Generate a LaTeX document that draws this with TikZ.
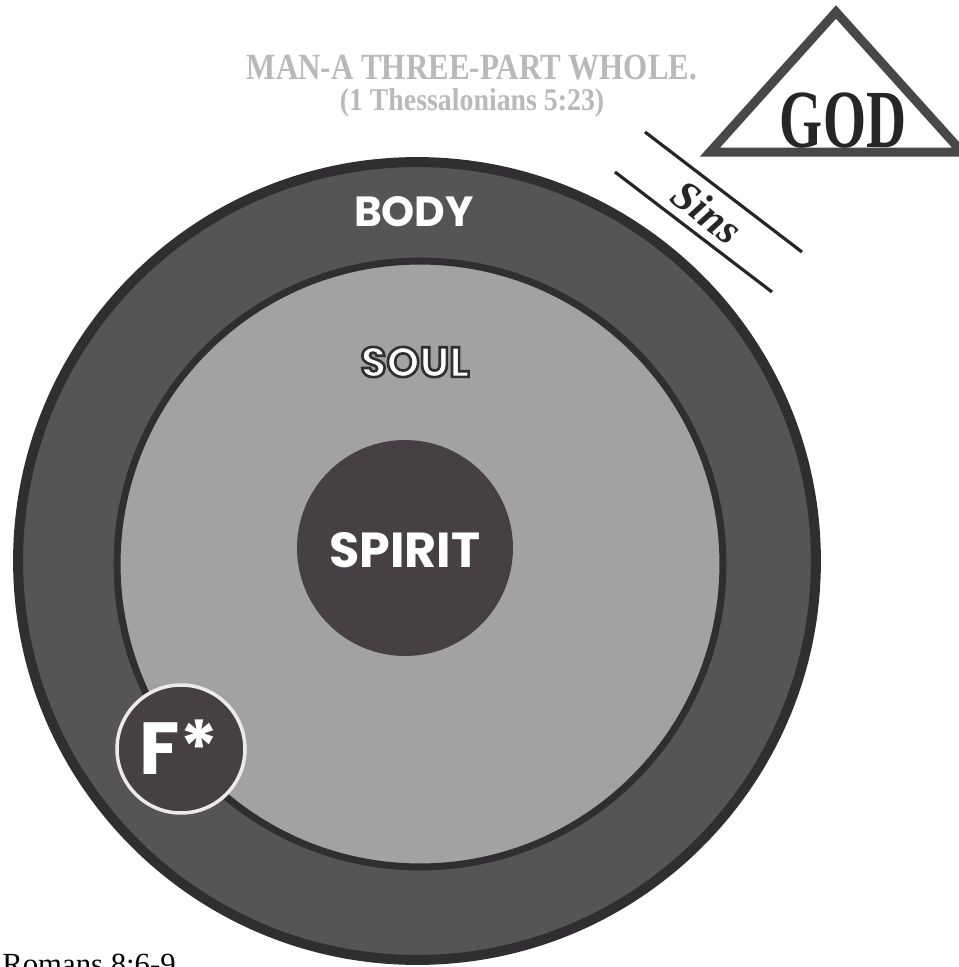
\documentclass[tikz,border=0pt]{standalone}
\usepackage{fontspec}
\setmainfont{Liberation Serif}
\setsansfont{Poppins}
\usetikzlibrary{positioning}
\definecolor{bodyRing}{RGB}{86,84,86}
\definecolor{ringEdge}{RGB}{48,46,48}
\definecolor{soulFill}{RGB}{163,162,163}
\definecolor{spiritFill}{RGB}{70,64,68}
\definecolor{triGray}{RGB}{72,72,72}
\definecolor{ghostGray}{RGB}{185,185,185}
% white letters with a dark rim
\newcommand\rimtext[1]{\special{pdf:literal direct 2 Tr 1.5 w 0.19 0.18 0.19 RG}#1\special{pdf:literal direct 0 Tr}}

\tikzset{
  partdisc/.style={circle, inner sep=0pt, outer sep=0pt},
  partname/.style={font=\sffamily\bfseries\fontsize{#1}{#1}\selectfont, text=white, inner sep=0pt},
  sinsline/.style={line width=1.8pt, black!85},
  ghost/.style={font=\bfseries\fontsize{#1}{#1}\selectfont, text=ghostGray, inner sep=0pt}
}

\begin{document}
\begin{tikzpicture}[x=0.02cm, y=-0.02cm]
  \useasboundingbox[fill=white] (0,0) rectangle (959,967);

  % faint heading
  \node[ghost=21] (head) at (472,68) {\scalebox{0.84}[1]{MAN-A THREE-PART WHOLE.}};
  \node[ghost=18] (verse) at (472,103) {\scalebox{0.88}[1]{(1 Thessalonians 5:23)}};

  % body, soul and spirit
  \node[partdisc, minimum size=15.96cm, fill=bodyRing, draw=ringEdge, line width=0.2cm] (body) at (417,561) {};
  \node[partdisc, minimum size=12.12cm, fill=soulFill, draw=ringEdge, line width=0.14cm] (soul) at (420,564) {};
  \node[partdisc, minimum size=4.32cm, fill=spiritFill] (spirit) at (405,548) {};
  \node[partdisc, minimum size=2.56cm, fill=spiritFill, draw=white!92!black, line width=0.07cm] (flesh) at (181,749) {};

  % names
  \node[partname=24] (bodytxt) at (414,212) {BODY};
  \node[partname=24] (soultxt) at (415,362) {\rimtext{SOUL}};
  \node[partname=28] (spirittxt) at (405,550) {SPIRIT};
  \node[partname=42] (fleshtxt) at (179,747) {F*};

  % God in the triangle
  \draw[triGray, line width=0.18cm] (836,12) -- (710,152) -- (962,152) -- cycle;
  \node[font=\bfseries\fontsize{47}{47}\selectfont, text=black!85, inner sep=0pt] (god) at (843,121) {\scalebox{0.67}[1]{GOD}};

  % sins between
  \draw[sinsline] (645,132) -- (802,252);
  \draw[sinsline] (615,172) -- (772,292);
  \node[font=\bfseries\itshape\fontsize{24}{24}\selectfont, text=black!85, rotate=-37.4, inner sep=0pt] (sins) at (707,212) {Sins};

  \node[anchor=north west, inner sep=0pt, font=\fontsize{17.5}{17.5}\selectfont] (ref) at (2,954) {Romans 8:6-9};
\end{tikzpicture}
\end{document}
